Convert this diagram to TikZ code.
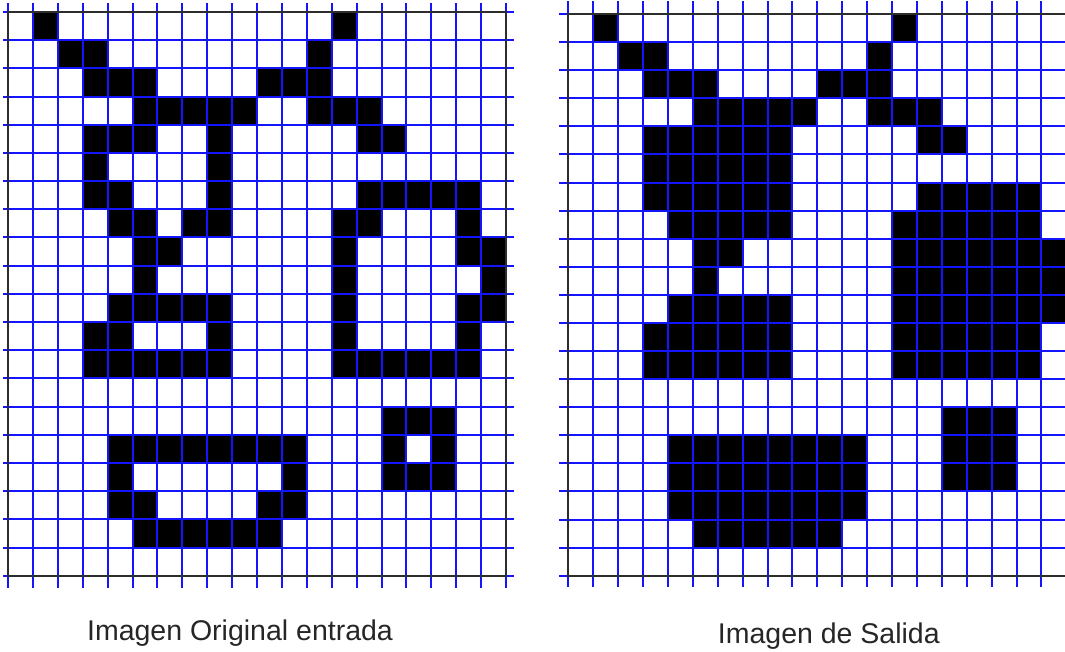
\documentclass[tikz,border=0pt]{standalone}
\usepackage{fontspec}
\setmainfont{Liberation Sans}
\definecolor{gridblue}{RGB}{20,20,255}
\definecolor{framegray}{RGB}{45,45,45}
\tikzset{
  gridline/.style={draw=gridblue, line width=2pt},
  frameline/.style={draw=framegray, line width=2.2pt},
  pixel/.style={fill=black},
  caption/.style={anchor=base, inner sep=0pt, font=\fontsize{28.5}{34}\selectfont, text=black!85}
}
\begin{document}
\begin{tikzpicture}[x=1pt,y=-1pt]
\useasboundingbox (0,0) rectangle (1065,651);
\clip (0,0) rectangle (1065,651);
\fill[white] (0,0) rectangle (1065,651);
% ---------- left grid ----------
\def\xo{8}\def\yo{12}\def\cw{24.9}\def\ch{28.185}
\foreach \r/\cs in {0/{1,13},1/{2,3,12},2/{3,4,5,10,11,12},3/{5,6,7,8,9,12,13,14},
  4/{3,4,5,8,14,15},5/{3,8},6/{3,4,8,14,15,16,17,18},7/{4,5,7,8,13,14,18},
  8/{5,6,13,18,19},9/{5,13,19},10/{4,5,6,7,8,13,18,19},11/{3,4,8,13,18},
  12/{3,4,5,6,7,8,13,14,15,16,17,18},14/{15,16,17},15/{4,5,6,7,8,9,10,11,15,17},
  16/{4,11,15,16,17},17/{4,5,10,11},18/{5,6,7,8,9,10}}{
  \foreach \c in \cs {
    \fill[pixel] ({\xo+\c*\cw},{\yo+\r*\ch}) rectangle ++(\cw,\ch);
  }
}
\foreach \i in {0,...,20}{
  \draw[gridline] (3.3,{\yo+\i*\ch}) -- (513.5,{\yo+\i*\ch});
  \draw[gridline] ({\xo+\i*\cw},3.3) -- ({\xo+\i*\cw},588);
}
\draw[frameline] (\xo,\yo) rectangle ({\xo+20*\cw},{\yo+20*\ch});
% ---------- right grid ----------
\def\xo{568.3}\def\yo{14}\def\cw{24.9}\def\ch{28.085}
\foreach \r/\cs in {0/{1,13},1/{2,3,12},2/{3,4,5,10,11,12},3/{5,6,7,8,9,12,13,14},
  4/{3,4,5,6,7,8,14,15},5/{3,4,5,6,7,8},6/{3,4,5,6,7,8,14,15,16,17,18},
  7/{4,5,6,7,8,13,14,15,16,17,18},8/{5,6,13,14,15,16,17,18,19},
  9/{5,13,14,15,16,17,18,19},10/{4,5,6,7,8,13,14,15,16,17,18,19},
  11/{3,4,5,6,7,8,13,14,15,16,17,18},12/{3,4,5,6,7,8,13,14,15,16,17,18},
  14/{15,16,17},15/{4,5,6,7,8,9,10,11,15,16,17},16/{4,5,6,7,8,9,10,11,15,16,17},
  17/{4,5,6,7,8,9,10,11},18/{5,6,7,8,9,10}}{
  \foreach \c in \cs {
    \fill[pixel] ({\xo+\c*\cw},{\yo+\r*\ch}) rectangle ++(\cw,\ch);
  }
}
\foreach \i in {0,...,20}{
  \draw[gridline] (559,{\yo+\i*\ch}) -- (1075,{\yo+\i*\ch});
  \draw[gridline] ({\xo+\i*\cw},1) -- ({\xo+\i*\cw},587);
}
\draw[frameline] (\xo,\yo) rectangle ({\xo+20*\cw},{\yo+20*\ch});
% ---------- captions ----------
\node[caption] (capL) at (240,640) {Imagen Original entrada};
\node[caption] (capR) at (828.8,643) {Imagen de Salida};
\end{tikzpicture}
\end{document}
